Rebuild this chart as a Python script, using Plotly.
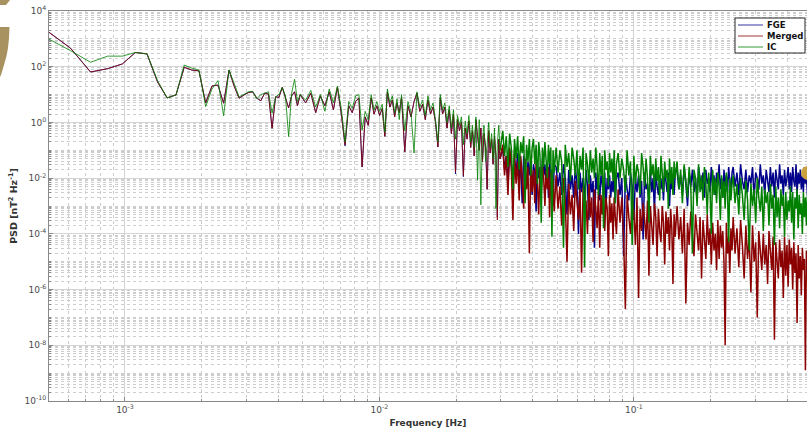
import plotly.graph_objects as go

# ---------------- data ----------------
DF = 1.0 / 8192.0  # frequency bin width [Hz]

# low / mid frequency bins (0.5 mHz - 30 mHz)
bins_low = [
    4, 5, 6, 7, 8, 9, 10, 11, 12, 13, 14, 15, 16, 17, 18, 19, 20, 21, 22, 23, 24, 25, 26, 27, 28, 29, 30,
    31, 32, 33, 34, 35, 36, 37, 38, 39, 40,
    42, 44, 46, 48, 50, 52, 54, 56, 58, 60, 62, 64, 66, 68, 70, 72, 74, 76, 78, 80, 82, 84, 86, 88, 90,
    92, 94, 96, 98, 100,
    103, 106, 109, 112, 115, 118, 121, 124, 127, 130, 133, 136, 139, 142, 145, 148, 151, 154, 157, 160,
    163, 166, 169, 172, 175, 178, 181, 184, 187, 190, 193, 196, 199, 202, 205, 208, 211, 214, 217, 220,
    223, 226, 229, 232, 235, 238, 241, 244,
]
# high frequency bins (sampled FFT bins, 30 mHz - 0.48 Hz)
bins_h1 = list(range(250, 401, 4))     # 38 bins
bins_h2 = list(range(405, 701, 7))     # 43 bins
bins_h3 = list(range(710, 1201, 12))   # 41 bins
bins_h4 = list(range(1210, 2001, 20))  # 40 bins
bins_h5 = list(range(2010, 3971, 35))  # 57 bins

# log10 of PSD [nT^2/Hz] -- FGE
fge_low = [
    3.32, 2.67, 1.81, 1.93, 2.10, 2.51, 2.46, 1.45, 0.88, 0.99, 1.98, 1.88, 1.85, 0.70, 1.31, 1.34, 0.69,
    1.88, 1.30, 0.87, 0.98, 1.07, 1.10, 0.87, 0.78, 1.05, 1.02, -0.21, 0.92, 0.90, 1.26, 0.85, 0.52, 0.95,
    1.10, 0.60, 1.00,
    0.70, 1.05, 0.35, 0.95, 0.60, 1.10, 0.45, 1.27, 0.30, -0.85, 0.60, 0.35, 0.75, 0.88, -1.60, 0.20,
    -0.10, 0.88, 0.30, 0.60, 0.25, 0.50, -0.50, 1.10, 0.55, 0.80, 0.20, 0.70, 0.35, 0.90,
    -1.05, 0.60, 0.20, 0.75, 1.05, 0.40, 0.65, 0.10, 0.80, 0.30, 0.55, 0.00, -0.88, 0.88, 0.30, 0.55,
    -0.20, 0.45, -0.40, 0.30, -1.85, 0.10, -0.30, 0.02, -1.95, -0.20, -0.60, 0.05, -0.90, -0.30, -1.20,
    0.10, -0.50, -1.00, -0.20, -1.40, -0.40, -0.90, -2.40, -0.30, -1.10, -0.60, -1.50, -0.50, -1.20,
    -3.40, -0.60, -1.30,
]
fge_h1 = [
    -0.9, -1.7, -1.2, -2.2, -1.0, -1.5, -2.5, -1.3, -1.8, -1.1,
    -2.1, -1.4, -2.9, -1.2, -1.7, -2.3, -1.4, -1.9, -1.3, -2.6,
    -1.5, -1.8, -3.2, -1.4, -2.0, -1.6, -2.4, -1.3, -1.9, -1.5,
    -2.2, -1.6, -2.7, -1.4, -2.0, -1.7, -3.0, -1.5,
]
fge_h2 = [
    -1.6, -2.3, -1.8, -2.6, -1.5, -2.0, -3.3, -1.7, -2.4, -1.9,
    -2.7, -1.6, -2.2, -4.0, -1.8, -2.5, -2.0, -2.8, -1.7, -2.3,
    -3.5, -1.9, -2.5, -2.1, -4.5, -1.8, -2.4, -2.0, -2.8, -1.9,
    -2.2, -2.6, -1.8, -3.1, -2.0, -2.4, -1.9, -2.7, -2.1, -2.5,
    -1.8, -2.9, -2.0,
]
fge_h3 = [
    -1.8, -2.6, -2.0, -4.8, -1.9, -2.4, -2.8, -1.8, -2.3, -3.5,
    -2.0, -2.5, -1.9, -2.7, -2.1, -4.2, -1.8, -2.4, -2.2, -2.9,
    -1.7, -2.5, -2.0, -3.2, -1.8, -2.3, -2.6, -1.9, -2.4, -2.0,
    -2.8, -1.7, -2.2, -2.5, -1.8, -3.0, -2.0, -2.4, -1.9, -2.6,
    -1.8,
]
fge_h4 = [
    -1.7, -2.4, -1.9, -2.6, -1.6, -2.2, -3.0, -1.8, -2.3, -1.7,
    -2.5, -2.0, -2.8, -1.6, -2.1, -2.4, -1.8, -2.7, -1.7, -2.2,
    -2.0, -2.5, -1.6, -2.3, -1.9, -2.6, -1.8, -2.2, -1.5, -2.4,
    -2.0, -2.7, -1.7, -2.3, -1.9, -2.5, -1.6, -2.1, -2.6, -1.8,
]
fge_h5 = [
    -1.6, -2.3, -1.8, -2.6, -1.5, -2.1, -2.4, -1.7, -2.5, -1.9,
    -2.2, -1.6, -2.7, -1.8, -2.0, -2.4, -1.5, -2.2, -1.9, -2.6,
    -1.7, -2.1, -2.5, -1.6, -2.3, -1.8, -2.7, -1.7, -2.0, -2.4,
    -1.5, -2.2, -1.9, -2.6, -1.7, -2.3, -2.0, -1.6, -2.4, -1.8,
    -2.5, -1.6, -2.1, -2.3, -1.5, -2.6, -1.8, -2.2, -1.7, -2.4,
    -1.9, -2.5, -1.6, -2.2, -1.8, -2.6, -1.7,
]

# log10 of PSD [nT^2/Hz] -- Merged
merged_low = [
    3.32, 2.67, 1.81, 1.93, 2.10, 2.51, 2.46, 1.45, 0.88, 0.99, 1.98, 1.88, 1.85, 0.70, 1.31, 1.34, 0.69,
    1.88, 1.30, 0.87, 0.98, 1.07, 1.10, 0.87, 0.78, 1.05, 1.02, -0.21, 0.92, 0.90, 1.26, 0.85, 0.52, 0.95,
    1.10, 0.60, 1.00,
    0.70, 1.05, 0.35, 0.95, 0.60, 1.10, 0.45, 1.27, 0.30, -0.81, 0.60, 0.35, 0.75, 0.88, -1.60, 0.20,
    -0.10, 0.88, 0.30, 0.60, 0.25, 0.50, -0.50, 1.10, 0.55, 0.80, 0.20, 0.70, 0.35, 0.90,
    -1.05, 0.60, 0.20, 0.75, 1.05, 0.40, 0.65, 0.10, 0.80, 0.30, 0.55, 0.00, -0.88, 0.88, 0.30, 0.55,
    -0.20, 0.45, -0.40, 0.30, -1.78, 0.10, -0.30, 0.02, -1.90, -0.20, -0.60, 0.05, -0.90, -0.30, -1.20,
    0.10, -0.50, -1.00, -0.20, -1.40, -0.40, -0.90, -2.40, -0.30, -1.10, -0.60, -1.50, -0.50, -1.20,
    -3.50, -0.60, -1.30,
]
merged_h1 = [
    -0.8, -1.9, -1.2, -2.6, -0.9, -1.6, -3.5, -1.1, -2.2, -1.4,
    -2.8, -1.2, -1.9, -3.1, -1.3, -2.4, -1.6, -4.7, -1.3, -2.5,
    -1.7, -2.9, -1.4, -2.2, -3.3, -1.6, -2.6, -1.5, -2.0, -3.0,
    -1.7, -2.4, -1.6, -3.4, -1.8, -2.7, -2.0, -3.2,
]
merged_h2 = [
    -1.9, -3.1, -2.3, -3.7, -2.0, -2.8, -5.0, -2.2, -3.3, -2.6,
    -3.9, -2.1, -2.9, -3.5, -2.4, -5.4, -2.3, -3.2, -2.8, -4.0,
    -2.2, -3.4, -2.7, -4.3, -2.4, -3.0, -3.8, -2.5, -4.5, -2.6,
    -3.3, -2.4, -3.9, -2.7, -3.1, -4.8, -2.6, -3.6, -2.9, -4.2,
    -2.7, -3.4, -4.0,
]
merged_h3 = [
    -2.4, -3.6, -2.7, -4.2, -6.7, -2.6, -3.4, -4.0, -2.8, -3.2,
    -4.4, -2.7, -6.3, -3.1, -3.9, -2.9, -3.5, -4.2, -2.8, -5.5,
    -3.0, -3.7, -4.4, -2.9, -3.4, -4.8, -3.1, -3.9, -4.3, -3.0,
    -3.6, -5.1, -3.2, -4.0, -3.4, -4.6, -3.1, -3.8, -5.8, -3.3,
    -4.1,
]
merged_h4 = [
    -3.0, -4.2, -3.4, -4.7, -3.1, -6.5, -3.6, -4.4, -3.2, -4.0,
    -4.8, -3.3, -3.9, -4.6, -3.4, -5.6, -3.5, -4.2, -4.9, -3.3,
    -4.4, -3.8, -5.1, -3.6, -4.6, -4.0, -5.3, -3.5, -4.9, -3.7,
    -4.5, -3.9, -5.0, -8.0, -3.6, -4.7, -4.1, -5.4, -3.8, -4.6,
]
merged_h5 = [
    -3.4, -4.7, -3.8, -5.2, -3.5, -4.4, -5.6, -3.7, -4.9, -4.1,
    -6.1, -3.7, -5.0, -4.3, -7.0, -3.9, -4.7, -5.3, -4.0, -5.1,
    -4.4, -5.8, -3.9, -4.8, -5.3, -4.1, -7.8, -4.3, -5.0, -5.6,
    -4.2, -5.2, -4.6, -6.3, -4.1, -5.5, -4.4, -5.9, -4.2, -5.1,
    -4.5, -6.0, -4.3, -5.4, -4.7, -7.2, -4.4, -5.6, -4.8, -6.2,
    -4.5, -5.3, -4.9, -8.9, -4.6, -5.7, -4.4,
]

# log10 of PSD [nT^2/Hz] -- IC
ic_low = [
    3.05, 2.58, 2.16, 2.38, 2.38, 2.51, 2.46, 1.50, 0.88, 0.99, 2.06, 1.95, 1.88, 0.57, 1.20, 1.50, 0.24,
    1.88, 1.40, 0.92, 1.00, 1.10, 1.12, 0.85, 1.00, 1.05, 1.10, 0.33, 0.92, 1.00, 1.26, 0.95, -0.51, 1.05,
    1.55, 0.75, 1.00,
    0.80, 1.15, 0.55, 1.00, 0.40, 1.20, 0.70, 1.30, 0.50, -0.70, 0.75, 0.50, 0.95, 1.00, -0.27, 0.40,
    0.10, 1.00, 0.45, 0.75, 0.40, 0.65, -0.35, 1.20, 0.70, 0.95, 0.35, 0.85, 0.10, 1.00,
    -0.30, 0.75, 0.35, -1.10, 1.10, 0.55, 0.80, 0.25, 0.95, 0.45, 0.70, 0.10, -0.70, 1.00, 0.45, 0.70,
    0.00, 0.60, -0.20, 0.45, -0.60, 0.25, -0.10, 0.20, -0.80, 0.05, -0.40, 0.25, -0.70, -0.10, -0.90,
    0.20, -2.07, 0.10, -2.96, -0.60, -0.10, -1.40, -0.80, 0.00, -0.90, -0.40, -1.30, -0.20, -3.10,
    -0.80, -0.10, -1.00,
]
ic_h1 = [
    -0.3, -1.2, -0.5, -1.6, -0.4, -0.9, -2.4, -0.6, -1.3, -0.5,
    -1.7, -0.7, -1.1, -0.5, -2.9, -0.8, -1.4, -0.6, -1.9, -0.9,
    -0.6, -1.5, -0.8, -2.2, -0.7, -1.2, -3.6, -0.9, -1.6, -0.7,
    -1.3, -2.0, -0.8, -1.5, -0.9, -4.1, -1.0, -1.8,
]
ic_h2 = [
    -0.9, -1.8, -1.0, -1.4, -4.5, -0.8, -1.6, -1.1, -2.1, -0.9,
    -1.3, -1.9, -1.0, -2.4, -1.2, -1.7, -0.9, -5.2, -1.1, -1.5,
    -2.2, -1.0, -1.8, -1.3, -2.0, -0.9, -1.6, -2.6, -1.1, -1.9,
    -1.2, -3.8, -1.0, -1.7, -1.4, -2.3, -1.1, -1.8, -1.3, -2.1,
    -1.0, -2.9, -1.5,
]
ic_h3 = [
    -1.1, -2.0, -1.3, -1.7, -2.5, -1.0, -1.9, -1.4, -4.4, -1.2,
    -2.2, -1.5, -1.8, -2.6, -1.1, -1.6, -2.3, -1.3, -2.0, -3.6,
    -1.2, -1.9, -1.5, -2.4, -1.3, -2.1, -1.6, -2.8, -1.2, -1.8,
    -2.5, -1.4, -2.0, -1.7, -3.1, -1.3, -2.2, -1.6, -2.6, -1.4,
    -2.0,
]
ic_h4 = [
    -1.4, -2.4, -1.7, -2.9, -1.5, -2.1, -2.7, -1.6, -2.3, -4.7,
    -1.7, -2.0, -3.0, -1.5, -2.5, -1.9, -2.8, -1.6, -2.2, -3.3,
    -1.8, -2.4, -4.0, -1.7, -2.6, -2.0, -2.9, -1.8, -2.3, -3.5,
    -1.9, -2.7, -2.1, -3.1, -1.8, -2.5, -4.3, -2.0, -2.8, -2.2,
]
ic_h5 = [
    -1.9, -2.9, -2.2, -3.3, -2.0, -2.6, -3.5, -2.1, -2.8, -4.6,
    -2.2, -3.0, -2.4, -3.6, -2.0, -2.7, -3.2, -2.3, -3.9, -2.4,
    -2.9, -2.5, -3.7, -2.2, -3.1, -2.6, -4.4, -2.3, -3.4, -2.7,
    -3.8, -2.4, -3.0, -2.6, -4.1, -2.5, -3.5, -2.8, -3.2, -2.3,
    -3.6, -2.5, -4.2, -2.7, -3.1, -2.4, -3.8, -2.6, -3.3, -2.9,
    -4.0, -2.5, -3.4, -2.7, -3.7, -2.6, -3.1,
]

series_names = ["FGE", "Merged", "IC"]
series_colors = ["#00008b", "#8b0000", "#008000"]

y_label_exponents = [4, 2, 0, -2, -4, -6, -8, -10]
x_label_exponents = [-3, -2, -1]

# ---------------- assemble ----------------
bins = bins_low + bins_h1 + bins_h2 + bins_h3 + bins_h4 + bins_h5
series_vals = [
    fge_low + fge_h1 + fge_h2 + fge_h3 + fge_h4 + fge_h5,
    merged_low + merged_h1 + merged_h2 + merged_h3 + merged_h4 + merged_h5,
    ic_low + ic_h1 + ic_h2 + ic_h3 + ic_h4 + ic_h5,
]
for v in series_vals:
    assert len(v) == len(bins), (len(v), len(bins))

freq = [b * DF for b in bins]
split = len(bins_low) - 1  # dense high-frequency part is drawn with a slightly heavier pen

W, H = 807, 428
ML, MR, MT, MB = 49, 0, 11, 27
FONT = "DejaVu Sans"

fig = go.Figure()
for name, color, vals in zip(series_names, series_colors, series_vals):
    psd = [10 ** v for v in vals]
    fig.add_trace(go.Scatter(
        x=freq[:split + 1], y=psd[:split + 1], mode="lines", name=name, legendgroup=name,
        line=dict(color=color, width=0.8), showlegend=False,
    ))
    fig.add_trace(go.Scatter(
        x=freq[split:], y=psd[split:], mode="lines", name=name, legendgroup=name,
        line=dict(color=color, width=1.5), showlegend=False,
    ))

grid_major = "#d4d4d4"
grid_minor = "#cdcdcd"
axis_col = "#8a8a8a"

# minor grid positions on the y axis: 2..9 of every decade plus the unlabelled odd decades
y_minor_vals = []
for n in range(-10, 4):
    for d in range(1, 10):
        if d == 1 and n % 2 == 0:
            continue
        y_minor_vals.append(d * 10.0 ** n)

common_axis = dict(
    type="log", showline=True, linecolor=axis_col, linewidth=1, mirror=True,
    ticks="inside", ticklen=4, tickcolor=axis_col,
    showgrid=True, gridcolor=grid_major, gridwidth=1,
    zeroline=False, tickfont=dict(family=FONT, size=9, color="#4a4a4a"),
    tickmode="array",
)

fig.update_layout(
    width=W, height=H,
    margin=dict(l=ML, r=MR, t=MT, b=MB, pad=0),
    paper_bgcolor="white", plot_bgcolor="white",
    font=dict(family=FONT, size=9, color="#333333"),
    xaxis=dict(
        common_axis,
        range=[-3.2986, -0.3200],
        tickvals=[10.0 ** e for e in x_label_exponents],
        ticktext=[f"10<sup>{e}</sup>" for e in x_label_exponents],
        minor=dict(dtick="D1", showgrid=True, gridcolor=grid_minor, griddash="dot",
                   ticks="inside", ticklen=2, tickcolor=axis_col),
        title=dict(text="<b>Frequency [Hz]</b>", font=dict(family=FONT, size=9, color="#333333"),
                   standoff=6),
    ),
    yaxis=dict(
        common_axis,
        range=[-10, 4],
        tickvals=[10.0 ** e for e in y_label_exponents],
        ticktext=[f"10<sup>{e}</sup>" for e in y_label_exponents],
        minor=dict(tickmode="array", tickvals=y_minor_vals, showgrid=True, gridcolor=grid_minor,
                   griddash="dot", ticks="inside", ticklen=2, tickcolor=axis_col),
        title=dict(text="<b>PSD [nT<sup>2</sup> Hz<sup>-1</sup>]</b>",
                   font=dict(family=FONT, size=9.5, color="#333333"), standoff=5),
    ),
    showlegend=False,
)


def px_to_paper(px, py):
    return (px - ML) / (W - ML - MR), (H - MB - py) / (H - MT - MB)


def path_from_pixels(points):
    parts = []
    for i, (px, py) in enumerate(points):
        x, y = px_to_paper(px, py)
        parts.append(("M" if i == 0 else "L") + f"{x:.5f},{y:.5f}")
    return " ".join(parts) + " Z"


# legend box drawn in the top-right corner of the axes
lx0, ly0 = px_to_paper(735, 18)
lx1, ly1 = px_to_paper(805, 53)
fig.add_shape(type="rect", xref="paper", yref="paper", x0=lx0, x1=lx1, y0=ly1, y1=ly0,
              fillcolor="white", line=dict(color="#262626", width=1), layer="above")
for i, (name, color) in enumerate(zip(series_names, series_colors)):
    row_y = 25 + 11 * i
    sx0, sy = px_to_paper(738, row_y)
    sx1, _ = px_to_paper(763, row_y)
    fig.add_shape(type="line", xref="paper", yref="paper", x0=sx0, x1=sx1, y0=sy, y1=sy,
                  line=dict(color=color, width=0.8), layer="above")
    tx, ty = px_to_paper(765, row_y)
    fig.add_annotation(xref="paper", yref="paper", x=tx, y=ty, xanchor="left", yanchor="middle",
                       text=f"<b>{name}</b>", showarrow=False,
                       font=dict(family=FONT, size=8.5, color="#111111"))

gold = "#a8925f"
fig.add_shape(type="path", xref="paper", yref="paper", layer="above", line=dict(width=0),
              fillcolor=gold,
              path=path_from_pixels([(0, 27), (9.5, 27), (9, 38), (8, 48), (6.5, 56), (4, 65), (1, 75),
                                     (0, 77)]))
fig.add_shape(type="path", xref="paper", yref="paper", layer="above", line=dict(width=0),
              fillcolor=gold,
              path=path_from_pixels([(0, 0), (10, 0), (6, 5), (0, 5)]))
cx0, cy0 = px_to_paper(801, 166)
cx1, cy1 = px_to_paper(815, 180)
fig.add_shape(type="circle", xref="paper", yref="paper", layer="above", line=dict(width=0),
              fillcolor="#c9a23f", x0=cx0, y0=cy1, x1=cx1, y1=cy0)

fig.write_html("out.html")
